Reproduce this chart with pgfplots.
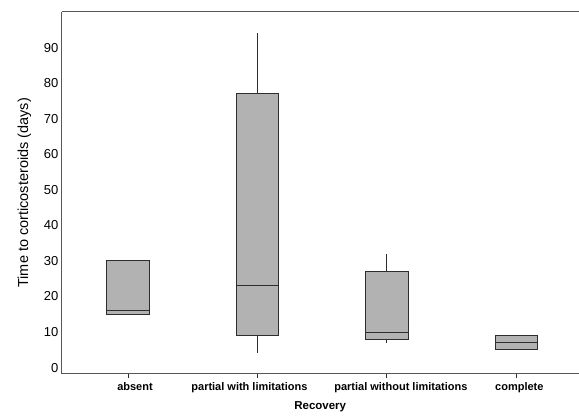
\documentclass[border=0pt]{standalone}
\usepackage{pgfplots}
\pgfplotsset{compat=1.18}
\usepgfplotslibrary{statistics}
\usepackage{fontspec}
\setmainfont{Liberation Sans}
\definecolor{boxfill}{RGB}{178,178,178}
\definecolor{boxline}{RGB}{45,45,45}
\begin{document}
\begin{tikzpicture}
\begin{axis}[
  scale only axis,
  width=517pt, height=362pt,
  xmin=-0.51, xmax=3.48,
  ymin=-1.7, ymax=100,
  axis lines=left,
  axis line style={-, draw=boxline!80, line width=1pt},
  xtick={0,1,2,3},
  xticklabels={\kern14pt absent, partial with limitations\kern16pt, \kern28pt partial without limitations, \kern6pt complete},
  xticklabel style={font=\bfseries\fontsize{11}{13}\selectfont, yshift=-1pt},
  xtick align=outside,
  x tick style={draw=boxline, line width=0.8pt},
  major tick length=4pt,
  ytick={0,10,...,90},
  y tick style={draw=none},
  yticklabel style={font=\fontsize{13}{15}\selectfont, xshift=2pt},
  /pgf/number format/assume math mode=true,
  xlabel={\bfseries Recovery},
  xlabel style={font=\fontsize{11.5}{13}\selectfont, yshift=-2pt},
  ylabel={Time to corticosteroids (days)},
  ylabel style={font=\fontsize{14.5}{16}\selectfont, yshift=6pt},
  boxplot/draw direction=y,
  boxplot/box extend=0.33,
  boxplot/whisker extend=0,
  every boxplot/.style={draw=boxline, fill=boxfill, line width=1pt},
  clip=false,
]
\addplot+[mark=none, draw=boxline, fill=boxfill, line width=1pt, boxplot prepared={draw position=0,
  lower whisker=15, lower quartile=15, median=16, upper quartile=30, upper whisker=30}]
  coordinates {};
\addplot+[mark=none, draw=boxline, fill=boxfill, line width=1pt, boxplot prepared={draw position=1,
  lower whisker=4, lower quartile=9, median=23, upper quartile=77, upper whisker=94}]
  coordinates {};
\addplot+[mark=none, draw=boxline, fill=boxfill, line width=1pt, boxplot prepared={draw position=2,
  lower whisker=7, lower quartile=8, median=10, upper quartile=27, upper whisker=32}]
  coordinates {};
\addplot+[mark=none, draw=boxline, fill=boxfill, line width=1pt, boxplot prepared={draw position=3,
  lower whisker=5, lower quartile=5, median=7, upper quartile=9, upper whisker=9}]
  coordinates {};
\draw[boxline!80, line width=1pt] (rel axis cs:0,1) -- (rel axis cs:1,1);
\end{axis}
\useasboundingbox (-62pt,-44pt) rectangle (517pt,374pt);
\end{tikzpicture}
\end{document}
